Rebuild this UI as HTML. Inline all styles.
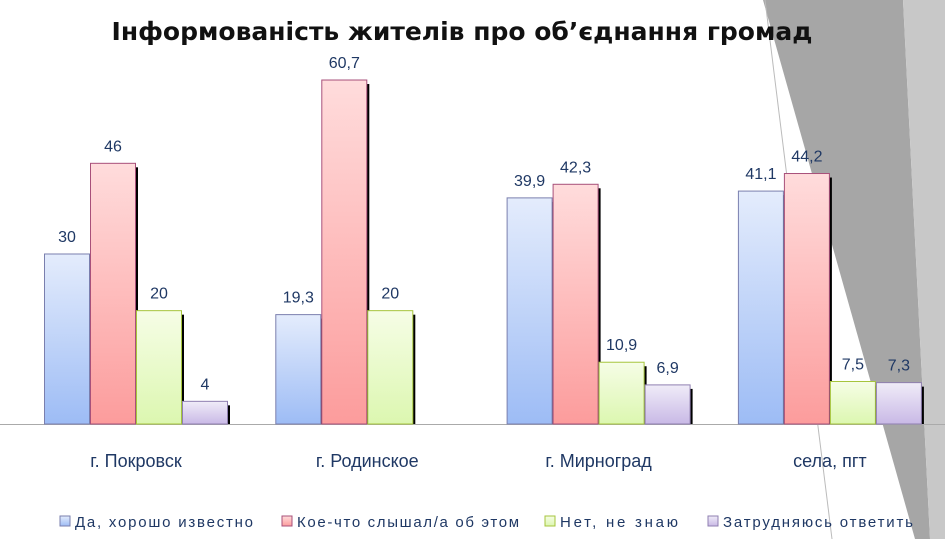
<!DOCTYPE html>
<html><head><meta charset="utf-8"><style>
body{margin:0;background:#fff;width:945px;height:539px;overflow:hidden;font-family:"Liberation Sans",sans-serif}
</style></head><body>
<svg width="945" height="539" xmlns="http://www.w3.org/2000/svg">
<defs>
<linearGradient id="g0" x1="0" y1="0" x2="0" y2="1"><stop offset="0" stop-color="#e4ecfc"/><stop offset="1" stop-color="#9dbcf5"/></linearGradient>
<linearGradient id="g1" x1="0" y1="0" x2="0" y2="1"><stop offset="0" stop-color="#ffdcdc"/><stop offset="1" stop-color="#fc9c9c"/></linearGradient>
<linearGradient id="g2" x1="0" y1="0" x2="0" y2="1"><stop offset="0" stop-color="#f6fde6"/><stop offset="1" stop-color="#dcf7b0"/></linearGradient>
<linearGradient id="g3" x1="0" y1="0" x2="0" y2="1"><stop offset="0" stop-color="#f0ecf8"/><stop offset="1" stop-color="#c9b9e6"/></linearGradient>
</defs>
<g>
<polygon points="763,0 903,0 930,539 915,539" fill="#a6a6a6"/>
<polygon points="903,0 945,0 945,539 930,539" fill="#c8c8c8"/>
<line x1="765" y1="0" x2="832" y2="539" stroke="#bbb" stroke-width="1"/>
</g>
<text x="462" y="40" text-anchor="middle" font-size="25" font-weight="bold" fill="#111" font-family="'DejaVu Sans',sans-serif">Інформованість жителів про об’єднання громад</text>
<line x1="0" y1="424.5" x2="945" y2="424.5" stroke="#aaa" stroke-width="1"/>
<g id="bars"></g>
<g id="labels"></g>
<g id="legend"></g>
</svg>
<script>
const categories=["г. Покровск","г. Родинское","г. Мирноград","села, пгт"];
const seriesNames=["Да, хорошо известно","Кое-что слышал/а об этом","Нет, не знаю","Затрудняюсь ответить"];
const s0=[30,19.3,39.9,41.1];
const s1=[46,60.7,42.3,44.2];
const s2=[20,20,10.9,7.5];
const s3=[4,null,6.9,7.3];
const series=[s0,s1,s2,s3];
const strokes=["#7a7fae","#a8507a","#a6c43c","#8f7fb0"];
const NS="http://www.w3.org/2000/svg";
const base=424, scale=5.667;
const y=v=>base-v*scale;
const gx=i=>44+i*231.3;
const bw=46;
const bars=document.getElementById('bars'), labels=document.getElementById('labels'), legend=document.getElementById('legend');
function fmt(v){return String(v).replace('.',',');}
categories.forEach((c,i)=>{
  series.forEach((s,k)=>{
    const v=s[i]; if(v==null) return;
    const x=gx(i)+k*bw, t=y(v);
    const sh=document.createElementNS(NS,'rect');
    sh.setAttribute('x',x+bw-1);sh.setAttribute('y',t+4);sh.setAttribute('width',3);sh.setAttribute('height',base-t-4);sh.setAttribute('fill','#000');
    
    
    bars.appendChild(sh);
    const r=document.createElementNS(NS,'rect');
    r.setAttribute('x',x+0.5);r.setAttribute('y',t);r.setAttribute('width',bw-1);r.setAttribute('height',base-t);
    r.setAttribute('fill','url(#g'+k+')');r.setAttribute('stroke',strokes[k]);
    
    
    bars.appendChild(r);
    const tx=document.createElementNS(NS,'text');
    tx.setAttribute('x',x+bw/2);tx.setAttribute('y',t-12);tx.setAttribute('text-anchor','middle');
    tx.setAttribute('font-size','16');tx.setAttribute('fill','#1f3864');tx.textContent=fmt(v);
    
    
    labels.appendChild(tx);
  });
  const ct=document.createElementNS(NS,'text');
  ct.setAttribute('x',gx(i)+2*bw);ct.setAttribute('y',467);ct.setAttribute('text-anchor','middle');
  ct.setAttribute('font-size','18');ct.setAttribute('fill','#1f3864');ct.textContent=c;
  
  
  labels.appendChild(ct);
});
const lx=[60,282,545,708];
const lw=[178,222,118,190];
seriesNames.forEach((n,k)=>{
  const r=document.createElementNS(NS,'rect');
  r.setAttribute('x',lx[k]);r.setAttribute('y',516);r.setAttribute('width',10);r.setAttribute('height',10);
  r.setAttribute('fill','url(#g'+k+')');r.setAttribute('stroke',strokes[k]);
  
  
  legend.appendChild(r);
  const t=document.createElementNS(NS,'text');
  t.setAttribute('x',lx[k]+15);t.setAttribute('y',527);t.setAttribute('font-size','15');t.setAttribute('fill','#1f3864');
  t.setAttribute('textLength',lw[k]);t.setAttribute('lengthAdjust','spacing');
  t.textContent=n;
  
  
  legend.appendChild(t);
});
</script>
</body></html>
